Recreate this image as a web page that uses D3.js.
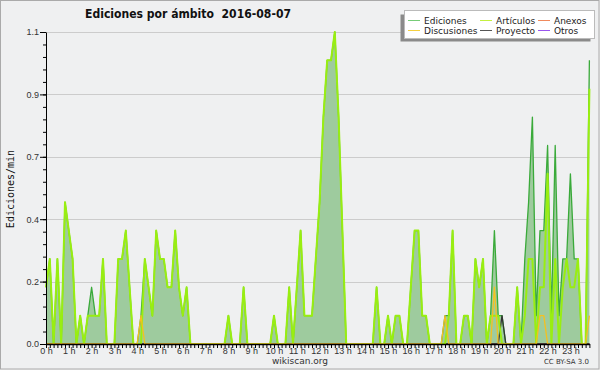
<!DOCTYPE html>
<html>
<head>
<meta charset="utf-8">
<script src="https://cdn.jsdelivr.net/npm/d3@7"></script>
<style>
  body { margin: 0; background: #f0f0f0; }
  svg { display: block; }
</style>
</head>
<body>
<svg id="chart"></svg>
<script>
// one value per 10 minutes, 144 bins for the day (edits/min)
var ediciones = [
  0.2,0.3,0,0.3,0,0.5,0.4,0.3,0,0.1,
  0,0.1,0.2,0.1,0.1,0.3,0,0,0,0.3,
  0.3,0.4,0.2,0,0,0.1,0.3,0.2,0.1,0.4,
  0.3,0.3,0.2,0.2,0.4,0.2,0.1,0.2,0,0,
  0,0,0,0,0,0,0,0,0.1,0,
  0,0,0.2,0,0,0,0,0,0,0,
  0.1,0,0,0,0.2,0,0.2,0.4,0.1,0.1,
  0.1,0.3,0.5,0.8,1.0,1.0,1.1,0.8,0.4,0,
  0,0,0,0,0,0,0,0.2,0,0,
  0.1,0,0.1,0.1,0,0,0.2,0.4,0.4,0.1,
  0.1,0,0,0,0,0.1,0.1,0.4,0,0,
  0.1,0.1,0,0.3,0.2,0.3,0,0.1,0.4,0.1,
  0.1,0,0,0,0.2,0,0.3,0.5,0.8,0.1,
  0.4,0.4,0.7,0.1,0.7,0.1,0.3,0.3,0.6,0.3,
  0.3,0,0,1.0
];
var articulos = [
  0.2,0.3,0,0.3,0,0.5,0.4,0.3,0,0.1,
  0,0.1,0.1,0.1,0.1,0.3,0,0,0,0.3,
  0.3,0.4,0.2,0,0,0,0.3,0.2,0.1,0.4,
  0.3,0.3,0.2,0.2,0.4,0.2,0.1,0.2,0,0,
  0,0,0,0,0,0,0,0,0.1,0,
  0,0,0.2,0,0,0,0,0,0,0,
  0.1,0,0,0,0.2,0,0.2,0.4,0.1,0.1,
  0.1,0.3,0.5,0.8,1.0,1.0,1.1,0.8,0.4,0,
  0,0,0,0,0,0,0,0.2,0,0,
  0.1,0,0.1,0.1,0,0,0.2,0.4,0.4,0.1,
  0.1,0,0,0,0,0,0.1,0.4,0,0,
  0.1,0.1,0,0.3,0.2,0.3,0,0.1,0.1,0.1,
  0,0,0,0,0.2,0,0.1,0.3,0.3,0,
  0.2,0.2,0.6,0,0.3,0,0.2,0.3,0.2,0.2,
  0.3,0,0,0.9
];
var anexos = [
  0,0,0,0,0,0,0,0,0,0, 0,0,0,0,0,0,0,0,0,0,
  0,0,0,0,0,0,0,0,0,0, 0,0,0,0,0,0,0,0,0,0,
  0,0,0,0,0,0,0,0,0,0, 0,0,0,0,0,0,0,0,0,0,
  0,0,0,0,0,0,0,0,0,0, 0,0,0,0,0,0,0,0,0,0,
  0,0,0,0,0,0,0,0,0,0, 0,0,0,0,0,0,0,0,0,0,
  0,0,0,0,0,0,0,0,0,0, 0,0,0,0,0,0,0,0,0,0,
  0,0,0,0,0,0,0,0,0,0, 0,0,0,0,0,0,0,0,0,0,
  0,0,0,0
];
var discusiones = [
  0,0,0,0,0,0,0,0,0,0, 0,0,0,0,0,0,0,0,0,0,
  0,0,0,0,0,0.1,0,0,0,0, 0,0,0,0,0,0,0,0,0,0,
  0,0,0,0,0,0,0,0,0,0, 0,0,0,0,0,0,0,0,0,0,
  0,0,0,0,0,0,0,0,0,0, 0,0,0,0,0,0,0,0,0,0,
  0,0,0,0,0,0,0,0,0,0, 0,0,0,0,0,0,0,0,0,0,
  0,0,0,0,0,0.1,0,0,0,0, 0,0,0,0,0,0,0,0,0.2,0,
  0,0,0,0,0,0,0,0,0,0, 0.1,0.1,0,0,0,0,0,0,0,0,
  0,0,0,0.1
];
var proyecto = [
  0,0,0,0,0,0,0,0,0,0, 0,0,0,0,0,0,0,0,0,0,
  0,0,0,0,0,0,0,0,0,0, 0,0,0,0,0,0,0,0,0,0,
  0,0,0,0,0,0,0,0,0,0, 0,0,0,0,0,0,0,0,0,0,
  0,0,0,0,0,0,0,0,0,0, 0,0,0,0,0,0,0,0,0,0,
  0,0,0,0,0,0,0,0,0,0, 0,0,0,0,0,0,0,0,0,0,
  0,0,0,0,0,0,0,0,0,0, 0,0,0,0,0,0,0,0,0,0,
  0.1,0,0,0,0,0,0,0,0,0, 0,0,0,0,0,0,0,0,0,0,
  0,0,0,0
];
var otros = [
  0,0,0,0,0,0,0,0,0,0, 0,0,0,0,0,0,0,0,0,0,
  0,0,0,0,0,0,0,0,0,0, 0,0,0,0,0,0,0,0,0,0,
  0,0,0,0,0,0,0,0,0,0, 0,0,0,0,0,0,0,0,0,0,
  0,0,0,0,0,0,0,0,0,0, 0,0,0,0,0,0,0,0,0,0,
  0,0,0,0,0,0,0,0,0,0, 0,0,0,0,0,0,0,0,0,0,
  0,0,0,0,0,0,0,0,0,0, 0,0,0,0,0,0,0,0,0,0,
  0,0,0,0,0,0,0,0,0,0, 0,0,0,0,0,0,0,0,0,0,
  0,0,0,0
];

var hourLabels = ["0 h","1 h","2 h","3 h","4 h","5 h","6 h","7 h","8 h","9 h","10 h","11 h",
  "12 h","13 h","14 h","15 h","16 h","17 h","18 h","19 h","20 h","21 h","22 h","23 h"];
var yTicks = [0, 0.22, 0.44, 0.66, 0.88, 1.1];
var yTickLabels = ["0.0", "0.2", "0.4", "0.7", "0.9", "1.1"];

var series = [
  {name: "Ediciones", values: ediciones, color: "#3aaa3a", legend: "#77cc77"},
  {name: "Artículos", values: articulos, color: "#99ee11", legend: "#c4f040"},
  {name: "Anexos", values: anexos, color: "#f08a5d", legend: "#f08a5d"},
  {name: "Discusiones", values: discusiones, color: "#f5c020", legend: "#f5d040"},
  {name: "Proyecto", values: proyecto, color: "#333333", legend: "#555555"},
  {name: "Otros", values: otros, color: "#9955ee", legend: "#9955ee"}
];

var width = 600, height = 370;
var margin = {top: 32, right: 10, bottom: 26, left: 46};

var svg = d3.select("#chart")
    .attr("width", width)
    .attr("height", height)
    .style("font-family", "'DejaVu Sans', sans-serif");

// background and frame
svg.append("rect")
    .attr("x", 0.5).attr("y", 0.5)
    .attr("width", width - 1.5).attr("height", height - 1.5)
    .attr("fill", "#eff0f1")
    .attr("stroke", "#aaaaaa");

var x = d3.scaleLinear()
    .domain([0, 143])
    .range([margin.left, 589.4]);

var y = d3.scaleLinear()
    .domain([0, 1.1])
    .range([height - margin.bottom, margin.top]);

// horizontal grid
svg.append("g")
  .selectAll("line")
  .data(yTicks.slice(1))
  .enter().append("line")
    .attr("x1", x(0)).attr("x2", x(143))
    .attr("y1", function(d) { return Math.round(y(d)) + 0.5; })
    .attr("y2", function(d) { return Math.round(y(d)) + 0.5; })
    .attr("stroke", "#cccccc");

// area under the total
var area = d3.area()
    .x(function(d, i) { return x(i); })
    .y0(y(0))
    .y1(function(d) { return y(d); });

svg.append("path")
    .datum(ediciones)
    .attr("d", area)
    .attr("fill", "#9ecb9e");

var line = d3.line()
    .x(function(d, i) { return x(i); })
    .y(function(d) { return y(d); });

// draw order: total first, then the namespaces
var drawOrder = ["Ediciones", "Otros", "Anexos", "Proyecto", "Artículos", "Discusiones"];
drawOrder.forEach(function(name) {
  var s = series.find(function(d) { return d.name === name; });
  svg.append("path")
      .datum(s.values)
      .attr("d", line)
      .attr("fill", "none")
      .attr("stroke", s.color)
      .attr("stroke-width", name === "Artículos" ? 2 : 1.3)
      .attr("stroke-linejoin", "round");
});

// y axis: minor then major ticks
var yMinor = d3.range(0, 26).map(function(i) { return i * 0.044; });
svg.append("g")
    .attr("transform", "translate(" + margin.left + ",0)")
    .call(d3.axisLeft(y).tickValues(yMinor).tickSize(3).tickFormat(""))
    .call(function(g) { g.select(".domain").remove(); });

var yAxis = svg.append("g")
    .attr("transform", "translate(" + margin.left + ",0)")
    .call(d3.axisLeft(y)
      .tickValues(yTicks)
      .tickSize(6)
      .tickSizeOuter(0)
      .tickPadding(1)
      .tickFormat(function(d, i) { return yTickLabels[i]; }));
yAxis.selectAll("text").attr("fill", "#333").style("font-size", "9px");

// x axis: a tick every 10 minutes, labels every hour
svg.append("g")
    .attr("transform", "translate(0," + y(0) + ")")
    .call(d3.axisBottom(x)
      .tickValues(d3.range(0, 144))
      .tickSize(4)
      .tickSizeOuter(0)
      .tickFormat(""))
    .selectAll(".domain").attr("stroke-width", 1.5);

var xLabels = svg.append("g")
    .attr("transform", "translate(0," + y(0) + ")")
    .call(d3.axisBottom(x)
      .tickValues(d3.range(0, 24).map(function(h) { return h * 6; }))
      .tickSize(0)
      .tickPadding(4)
      .tickFormat(function(d) { return hourLabels[d / 6]; }));
xLabels.select(".domain").remove();
xLabels.selectAll("text").attr("fill", "#333").style("font-size", "9px");

// title
svg.append("text")
    .attr("x", 85).attr("y", 18)
    .attr("textLength", 206).attr("lengthAdjust", "spacingAndGlyphs")
    .style("white-space", "pre")
    .style("font-size", "13px").style("font-weight", "bold")
    .attr("fill", "#111")
    .text("Ediciones por ámbito  2016-08-07");

// y axis label
svg.append("text")
    .attr("transform", "translate(14,189) rotate(-90)")
    .style("text-anchor", "middle")
    .style("font-family", "'DejaVu Sans Mono', monospace")
    .style("font-size", "10px")
    .attr("fill", "#111")
    .text("Ediciones/min");

// footer
svg.append("text")
    .attr("x", 300).attr("y", 364)
    .style("text-anchor", "middle")
    .style("font-size", "9px")
    .attr("fill", "#333")
    .text("wikiscan.org");
svg.append("text")
    .attr("x", 589).attr("y", 364)
    .style("text-anchor", "end")
    .style("font-size", "7px")
    .attr("fill", "#333")
    .text("CC BY-SA 3.0");

// legend
var legend = svg.append("g");
legend.append("rect")
    .attr("x", 400.5).attr("y", 14.5)
    .attr("width", 190).attr("height", 27)
    .attr("fill", "#8a8a8a");
legend.append("rect")
    .attr("x", 404.5).attr("y", 10.5)
    .attr("width", 190).attr("height", 28)
    .attr("fill", "#ffffff")
    .attr("stroke", "#bbbbbb");

var colX = [408, 480, 538];
var rowY = [20, 30];
series.forEach(function(s, i) {
  var cx = colX[i % 3], cy = rowY[Math.floor(i / 3)];
  legend.append("line")
      .attr("x1", cx).attr("x2", cx + 12)
      .attr("y1", cy + 0.5).attr("y2", cy + 0.5)
      .attr("stroke", s.legend);
  legend.append("text")
      .attr("x", cx + 16).attr("y", cy + 3.5)
      .style("font-size", "9px")
      .attr("fill", "#222")
      .text(s.name);
});
</script>
</body>
</html>
